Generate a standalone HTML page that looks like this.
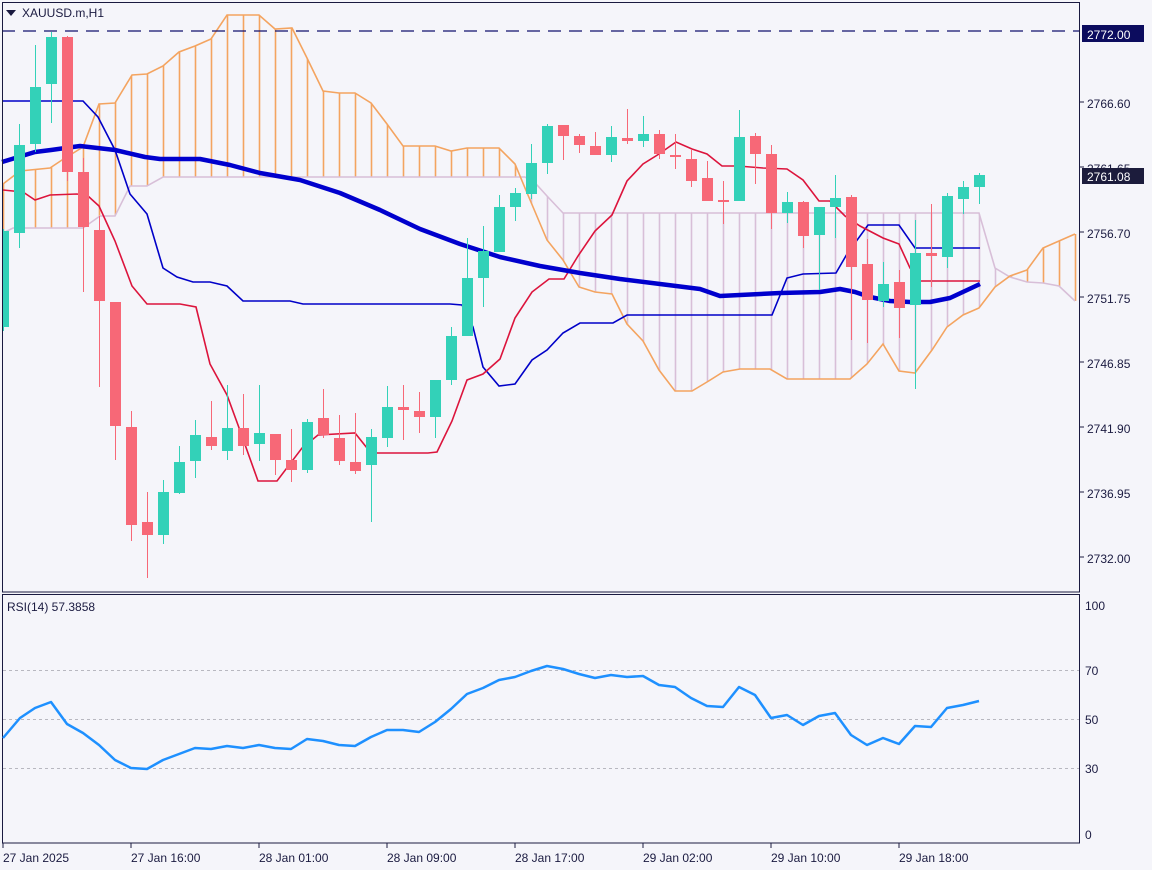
<!DOCTYPE html>
<html><head><meta charset="utf-8">
<style>
html,body{margin:0;padding:0;background:#f5f5fa;}
svg{display:block;font-family:"Liberation Sans",sans-serif;}
</style></head>
<body>
<svg id="s" width="1152" height="870" xmlns="http://www.w3.org/2000/svg">
<rect x="0" y="0" width="1152" height="870" fill="#f5f5fa"/>
<g id="cloud"></g>
<g id="lines"></g>
<g id="candles"></g>
<line x1="2" y1="31" x2="1080" y2="31" stroke="#10106e" stroke-width="1.2" stroke-dasharray="13,8"/>
<!-- frames -->
<rect x="2.5" y="2.5" width="1077" height="589.5" fill="none" stroke="#1a1a40" stroke-width="1"/>
<rect x="2.5" y="594.5" width="1077" height="248.5" fill="none" stroke="#1a1a40" stroke-width="1"/>
<!-- title -->
<polygon points="6,10 16,10 11,16" fill="#1a1a40"/>
<text x="22" y="17" font-size="12" fill="#1a1a40">XAUUSD.m,H1</text>
<!-- price axis -->
<g font-size="12" fill="#1a1a40" stroke="none">
<text x="1087" y="108">2766.60</text>
<text x="1087" y="173">2761.65</text>
<text x="1087" y="238">2756.70</text>
<text x="1087" y="303">2751.75</text>
<text x="1087" y="368">2746.85</text>
<text x="1087" y="433">2741.90</text>
<text x="1087" y="498">2736.95</text>
<text x="1087" y="563">2732.00</text>
</g>
<g stroke="#1a1a40" stroke-width="1">
<line x1="1080" y1="102" x2="1084" y2="102"/><line x1="1080" y1="167" x2="1084" y2="167"/>
<line x1="1080" y1="232" x2="1084" y2="232"/><line x1="1080" y1="297" x2="1084" y2="297"/>
<line x1="1080" y1="362" x2="1084" y2="362"/><line x1="1080" y1="427" x2="1084" y2="427"/>
<line x1="1080" y1="492" x2="1084" y2="492"/><line x1="1080" y1="557" x2="1084" y2="557"/>
</g>
<rect x="1082" y="25" width="62" height="17" fill="#0c0c5e"/>
<text x="1087" y="39" font-size="12" fill="#ffffff">2772.00</text>
<rect x="1082" y="168" width="62" height="16" fill="#1c1c3c"/>
<text x="1087" y="181" font-size="12" fill="#ffffff">2761.08</text>
<!-- RSI -->
<g stroke="#b8b8c0" stroke-width="1" stroke-dasharray="3,3">
<line x1="3" y1="670.5" x2="1079" y2="670.5"/>
<line x1="3" y1="719.5" x2="1079" y2="719.5"/>
<line x1="3" y1="768.5" x2="1079" y2="768.5"/>
</g>
<text x="7" y="611" font-size="12" fill="#1a1a40">RSI(14) 57.3858</text>
<g font-size="12" fill="#1a1a40">
<text x="1085" y="610">100</text>
<text x="1085" y="675">70</text>
<text x="1085" y="724">50</text>
<text x="1085" y="773">30</text>
<text x="1085" y="839">0</text>
</g>
<polyline id="rsi" fill="none" stroke="#1e90ff" stroke-width="2.5" stroke-linejoin="round"/>
<!-- time axis -->
<g stroke="#1a1a40" stroke-width="1">
<line x1="3" y1="843" x2="3" y2="848"/><line x1="131" y1="843" x2="131" y2="848"/>
<line x1="259" y1="843" x2="259" y2="848"/><line x1="387" y1="843" x2="387" y2="848"/>
<line x1="515" y1="843" x2="515" y2="848"/><line x1="643" y1="843" x2="643" y2="848"/>
<line x1="771" y1="843" x2="771" y2="848"/><line x1="899" y1="843" x2="899" y2="848"/>
</g>
<g font-size="12" fill="#1a1a40">
<text x="3" y="862">27 Jan 2025</text>
<text x="131" y="862">27 Jan 16:00</text>
<text x="259" y="862">28 Jan 01:00</text>
<text x="387" y="862">28 Jan 09:00</text>
<text x="515" y="862">28 Jan 17:00</text>
<text x="643" y="862">29 Jan 02:00</text>
<text x="771" y="862">29 Jan 10:00</text>
<text x="899" y="862">29 Jan 18:00</text>
</g>
</svg>
<script>
var NS="http://www.w3.org/2000/svg";
function el(p,t,a){var e=document.createElementNS(NS,t);for(var k in a)e.setAttribute(k,a[k]);p.appendChild(e);return e;}
function pts(a){return a.map(function(p){return p[0]+","+p[1];}).join(" ");}
function interp(a,x){if(x<=a[0][0])return a[0][1];for(var i=1;i<a.length;i++){if(x<=a[i][0]){var t=(x-a[i-1][0])/(a[i][0]-a[i-1][0]);return a[i-1][1]+t*(a[i][1]-a[i-1][1]);}}return a[a.length-1][1];}
var A=[[3,184],[20,171],[50,168],[62,160],[83,147],[99,104],[115,103],[132,75],[147,74],[163,66],[179,52],[195,46],[211,39],[227,15],[259,15],[275,29],[292,28],[307,58],[323,91],[339,93],[355,93],[371,103],[387,124],[403,146],[435,146],[451,151],[467,148],[499,148],[515,164],[525,188],[547,240],[563,260],[579,287],[595,292],[612,294],[627,324],[643,341],[659,370],[675,391],[692,391],[707,382],[723,372],[740,369],[770,369],[787,379],[850,379],[867,364],[883,344],[899,371],[915,373],[932,350],[947,327],[963,315],[979,308],[995,287],[1010,276],[1027,270],[1043,248],[1059,241],[1075,234]];
var B=[[3,233],[13,228],[83,228],[100,216],[115,216],[130,186],[147,186],[163,177],[525,177],[537,185],[547,196],[563,213],[979,213],[995,268],[1010,277],[1027,282],[1043,283],[1059,286],[1075,301]];
var cl=document.getElementById("cloud");
for(var i=0;i<=67;i++){var x=3.5+16*i;var a=interp(A,x),b=interp(B,x);
 el(cl,"line",{x1:x,y1:a,x2:x,y2:b,stroke:(a<b?"#f4a460":"#d8bfd8"),"stroke-width":1.6});}
var L=document.getElementById("lines");
el(L,"polyline",{points:pts(B),fill:"none",stroke:"#d8bfd8","stroke-width":1.6});
el(L,"polyline",{points:pts(A),fill:"none",stroke:"#f4a460","stroke-width":1.6});
var K=[[2,101],[83,101],[98,117],[115,150],[130,194],[147,214],[163,268],[177,277],[193,282],[210,282],[227,286],[243,301],[290,301],[303,304],[450,304],[462,305],[473,327],[483,367],[499,386],[515,384],[532,360],[547,350],[563,333],[580,323],[613,323],[627,315],[772,315],[787,278],[803,274],[836,273],[847,254],[868,225],[899,225],[915,248],[980,248]];
el(L,"polyline",{points:pts(K),fill:"none",stroke:"#0000c8","stroke-width":1.6});
var T=[[3,190],[23,192],[35,200],[50,195],[77,194],[88,196],[99,206],[115,241],[132,286],[147,304],[180,304],[196,307],[210,364],[227,395],[238,425],[258,481],[277,481],[302,448],[318,435],[355,433],[367,448],[377,453],[428,453],[437,452],[452,421],[467,380],[483,374],[500,359],[515,318],[532,292],[549,279],[564,279],[578,256],[595,231],[612,215],[627,181],[643,164],[659,154],[676,142],[692,149],[707,154],[722,166],[738,166],[763,168],[787,169],[803,180],[819,201],[830,201],[845,216],[860,226],[883,238],[899,244],[910,268],[920,281],[980,281]];
el(L,"polyline",{points:pts(T),fill:"none",stroke:"#dc143c","stroke-width":1.6});
var M=[[2,162],[35,152],[51,150],[80,146],[115,150],[145,157],[160,159],[200,159],[230,165],[260,173],[300,180],[340,193],[380,210],[420,229],[460,244],[500,257],[540,266],[580,273],[620,279],[660,284],[700,289],[720,296],[740,295],[780,293],[820,292],[840,289],[855,292],[870,297],[890,301],[910,302],[930,302],[950,298],[980,284]];
el(L,"polyline",{points:pts(M),fill:"none",stroke:"#0000cd","stroke-width":4.5,"stroke-linejoin":"round"});
// candles: [bodyTop, bodyBottom, wickTop, wickBottom, up]
var C=[[231,327,229,331,1],[145,233,124,248,1],[87,144,45,152,1],[37,84,32,123,1],[37,172,36,181,0],[172,227,158,292,0],[230,301,216,387,0],[302,426,302,460,0],[427,525,411,541,0],[522,535,492,578,0],
[492,535,480,544,1],[462,493,446,494,1],[435,461,420,478,1],[437,446,401,450,0],[428,451,385,460,1],[428,446,394,455,0],[433,444,385,461,1],[434,460,434,475,0],[460,470,429,482,0],[422,470,419,473,1],
[418,435,389,438,0],[438,461,415,465,0],[462,471,413,474,0],[437,465,429,522,1],[407,438,386,447,1],[407,410,385,440,0],[411,417,392,433,0],[380,417,380,438,1],[336,380,327,385,1],[278,336,238,336,1],
[251,278,226,307,1],[207,252,195,252,1],[193,207,188,221,1],[163,194,144,199,1],[126,163,124,174,1],[125,136,125,160,0],[136,145,134,153,0],[146,155,132,155,0],[137,155,126,162,1],[138,141,109,144,0],
[134,141,116,147,1],[134,154,130,159,0],[155,157,134,169,0],[159,181,150,187,0],[178,201,161,201,0],[200,202,181,224,0],[137,201,110,201,1],[136,154,133,184,0],[154,213,145,229,0],[202,213,192,223,1],
[202,236,201,248,0],[207,235,207,290,1],[198,207,175,238,1],[197,267,195,340,0],[264,300,239,343,0],[284,301,262,307,1],[282,308,270,338,0],[253,305,220,389,1],[253,256,204,287,0],[196,257,193,268,1],
[187,199,181,214,1],[175,187,173,204,1]];
var G=document.getElementById("candles");
C.forEach(function(c,i){var x=3.5+16*i;var col=c[4]?"#33d1b8":"#f76877";
 el(G,"line",{x1:x,y1:c[2],x2:x,y2:c[3],stroke:col,"stroke-width":1});
 var h=Math.max(c[1]-c[0],2);
 el(G,"rect",{x:Math.max(x-5.5,3),y:c[0],width:(i==0?6:11),height:h,fill:col});});
var R=[[3,738],[20,718],[35,708],[51,702],[67,724],[83,733],[99,745],[115,760],[131,768],[147,769],[163,760],[179,754],[195,748],[211,749],[227,746],[243,748],[259,745],[275,748],[291,749],[307,739],[323,741],[339,745],[355,746],[371,737],[387,730],[403,730],[419,732],[435,722],[451,709],[467,694],[483,688],[499,680],[515,677],[531,671],[547,666],[563,669],[579,674],[595,678],[611,675],[627,677],[643,676],[659,685],[675,687],[691,698],[707,706],[723,707],[739,687],[755,695],[771,718],[787,715],[803,725],[819,716],[835,713],[851,735],[867,745],[883,738],[899,744],[915,726],[931,727],[947,708],[963,705],[979,701]];
document.getElementById("rsi").setAttribute("points",pts(R));
</script>
</body></html>
